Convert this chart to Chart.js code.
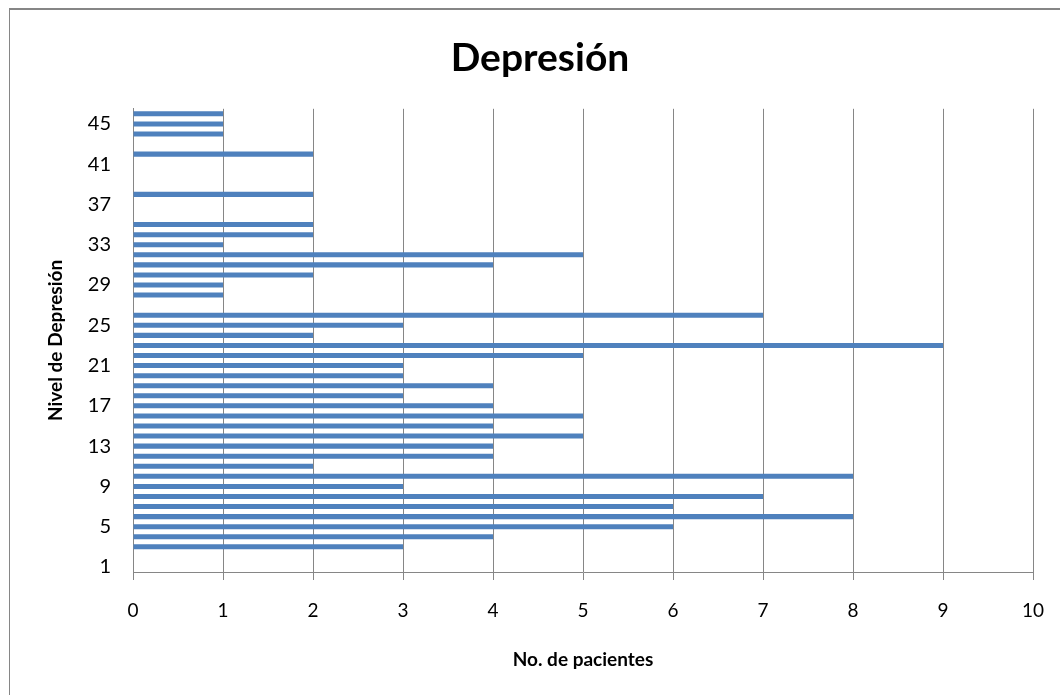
<!DOCTYPE html>
<html>
<head>
<meta charset="utf-8">
<script src="https://cdn.jsdelivr.net/npm/chart.js@4/dist/chart.umd.min.js"></script>
<style>
  body { margin: 0; background: #fff; }
  #wrap { position: relative; width: 1060px; height: 695px; }
  #frame { position: absolute; left: 9px; top: 8px; right: 0; bottom: 0;
           border-top: 2px solid #868686; border-left: 1px solid #868686; }
  canvas { position: absolute; left: 0; top: 0; }
</style>
</head>
<body>
<div id="wrap">
  <div id="frame"></div>
  <canvas id="bar-chart" width="1060" height="695"></canvas>
</div>
<script>
// nivel de depresion (categorias) y numero de pacientes
var niveles = ["1", "2", "3", "4", "5", "6", "7", "8", "9", "10", "11", "12", "13", "14", "15", "16",
    "17", "18", "19", "20", "21", "22", "23", "24", "25", "26", "27", "28", "29", "30", "31", "32",
    "33", "34", "35", "36", "37", "38", "39", "40", "41", "42", "43", "44", "45", "46"];
var pacientes = [0, 0, 3, 4, 6, 8, 6, 7, 3, 8, 2, 4, 4, 5, 4, 5,
    4, 3, 4, 3, 3, 5, 9, 2, 3, 7, 0, 1, 1, 2, 4, 5,
    1, 2, 2, 0, 0, 2, 0, 0, 0, 2, 0, 1, 1, 1];
var xTicks = [0, 1, 2, 3, 4, 5, 6, 7, 8, 9, 10];

var fuente = "Lato, 'Liberation Sans', sans-serif";
var gris = "#868686";

var ctx = document.getElementById("bar-chart");

var myChart = new Chart(ctx, {
    type: 'bar',
    data: {
        labels: niveles,
        datasets: [{
            data: pacientes,
            backgroundColor: "#4f81bd",
            borderWidth: 0,
            barPercentage: 0.5,
            categoryPercentage: 1
        }]
    },
    options: {
        indexAxis: 'y',
        responsive: false,
        animation: false,
        layout: {
            // left padding shifts the title centre to match the original
            padding: { left: 47, right: 27, top: 0, bottom: 0 }
        },
        plugins: {
            legend: { display: false },
            tooltip: { enabled: false },
            title: {
                display: true,
                text: 'Depresión',
                color: '#000',
                font: { family: fuente, size: 39, weight: 'bold' },
                padding: { top: 35, bottom: 27 }
            }
        },
        scales: {
            x: {
                min: 0,
                max: 10,
                afterFit: function (scale) {
                    scale.height = 123;
                    scale.paddingRight = 10;
                },
                afterBuildTicks: function (scale) {
                    scale.ticks = xTicks.map(function (v) { return { value: v }; });
                },
                grid: { color: gris, lineWidth: 1, tickLength: 8, drawTicks: true },
                border: { display: true, color: gris, width: 1 },
                ticks: {
                    color: '#000',
                    padding: 19,
                    font: { family: fuente, size: 19 }
                },
                title: {
                    display: true,
                    text: 'No. de pacientes',
                    color: '#000',
                    font: { family: fuente, size: 19, weight: 'bold' },
                    padding: { top: 0, bottom: 24 }
                }
            },
            y: {
                reverse: true,
                afterFit: function (scale) { scale.width = 86; },
                grid: { display: false },
                border: { display: true, color: gris, width: 1 },
                ticks: {
                    autoSkip: false,
                    color: '#000',
                    padding: 14,
                    font: { family: fuente, size: 20 },
                    callback: function (value, index) {
                        return index % 4 === 0 ? this.getLabelForValue(value) : null;
                    }
                },
                title: {
                    display: true,
                    text: 'Nivel de Depresión',
                    color: '#000',
                    font: { family: fuente, size: 19, weight: 'bold', lineHeight: 1 },
                    padding: { top: -1, bottom: 0 }
                }
            }
        }
    }
});
</script>
</body>
</html>
